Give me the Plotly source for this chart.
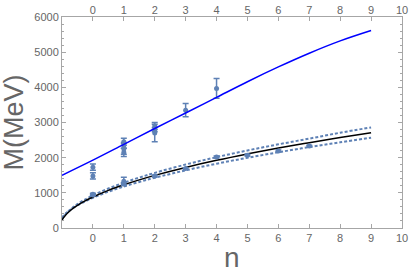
import plotly.graph_objects as go

# ---- data ----
n_curve = [-1, -0.95, -0.9, -0.8, -0.7, -0.6, -0.5, -0.3, 0, 0.5, 1, 1.5, 2, 3, 4, 5, 6, 7, 8, 9]
m_black = [224, 294, 351, 443, 519, 585, 644, 749, 883, 1070, 1229, 1369, 1497, 1723, 1924, 2105, 2272, 2427, 2573, 2711]
m_upper = [245, 316, 374, 469, 548, 616, 678, 787, 927, 1122, 1288, 1435, 1568, 1806, 2015, 2205, 2379, 2542, 2710, 2860]
m_lower = [300, 350, 394, 469, 534, 592, 644, 738, 860, 1032, 1179, 1310, 1428, 1640, 1828, 1997, 2154, 2300, 2437, 2567]

n_blue = [-1, 0, 1, 2, 3, 4, 5, 6, 7, 8, 9]
m_blue = [1500, 1930, 2380, 2830, 3270, 3715, 4160, 4580, 4970, 5320, 5615]

n_pts_hi = [0, 0, 1, 1, 1, 1, 2, 2, 2, 3, 4]
m_pts_hi = [1730, 1480, 2450, 2350, 2250, 2150, 2900, 2800, 2700, 3350, 3970]
e_pts_hi = [90, 90, 100, 80, 150, 120, 100, 60, 250, 190, 280]

n_pts_lo = [0, 0, 1, 1, 2, 3, 4, 5, 6, 7]
m_pts_lo = [960, 940, 1330, 1250, 1480, 1690, 2020, 2070, 2190, 2330]
e_pts_lo = [30, 25, 110, 40, 30, 20, 30, 25, 25, 25]

x_ticks = list(range(0, 11))
y_ticks = [0, 1000, 2000, 3000, 4000, 5000, 6000]

PT = "rgb(94,129,181)"
AX = "#a6a6a6"
TXT = "#666666"
FONT = "Liberation Sans"

fig = go.Figure()

fig.add_trace(go.Scatter(x=n_curve, y=m_upper, mode="lines", line=dict(color=PT, width=2, dash="3px,2px", shape="spline"), hoverinfo="skip"))
fig.add_trace(go.Scatter(x=n_curve, y=m_lower, mode="lines", line=dict(color=PT, width=2, dash="3px,2px", shape="spline"), hoverinfo="skip"))
fig.add_trace(go.Scatter(x=n_curve, y=m_black, mode="lines", line=dict(color="black", width=1.5, shape="spline"), hoverinfo="skip"))
fig.add_trace(go.Scatter(x=n_blue, y=m_blue, mode="lines", line=dict(color="blue", width=1.5, shape="spline"), hoverinfo="skip", xaxis="x2"))

for xs, ys, es in [(n_pts_hi, m_pts_hi, e_pts_hi), (n_pts_lo, m_pts_lo, e_pts_lo)]:
    fig.add_trace(go.Scatter(
        x=xs, y=ys, mode="markers",
        marker=dict(color=PT, size=5),
        error_y=dict(type="data", array=es, visible=True, color=PT, thickness=1.5, width=3),
    ))

common_x = dict(
    range=[-1, 10], tickmode="array", tickvals=x_ticks, ticktext=[str(v) for v in x_ticks],
    showgrid=False, zeroline=False, ticks="inside", ticklen=4, tickcolor=AX, tickwidth=1,
    tickfont=dict(family=FONT, size=11, color=TXT), automargin=False,
)

fig.update_layout(
    width=410, height=272,
    margin=dict(l=62, r=8, t=17, b=44),
    paper_bgcolor="white", plot_bgcolor="white",
    showlegend=False,
    xaxis=dict(**common_x, showline=True, linecolor=AX, linewidth=1, mirror="ticks"),
    xaxis2=dict(**common_x, overlaying="x", side="top", matches="x", showline=False),
    yaxis=dict(
        range=[0, 6000], tickmode="array", tickvals=y_ticks, ticktext=[str(v) for v in y_ticks],
        showgrid=False, zeroline=False, ticks="inside", ticklen=4, tickcolor=AX,
        showline=True, linecolor=AX, linewidth=1, mirror="ticks", automargin=False,
        tickfont=dict(family=FONT, size=11, color=TXT),
        minor=dict(ticks="inside", ticklen=2, dtick=200, tickcolor=AX, showgrid=False),
    ),
    annotations=[
        dict(text="n", xref="paper", yref="paper", x=0.5, y=0, yshift=-29, xanchor="center", yanchor="middle",
             showarrow=False, font=dict(family=FONT, size=28, color=TXT)),
        dict(text="M(MeV)", xref="paper", yref="paper", x=0, y=0.5, xshift=-49, xanchor="center", yanchor="middle",
             textangle=-90, showarrow=False, font=dict(family=FONT, size=27, color=TXT)),
    ],
)

fig.write_html("out.html", config={"displayModeBar": False},
               post_script="document.body.style.margin='0';")
